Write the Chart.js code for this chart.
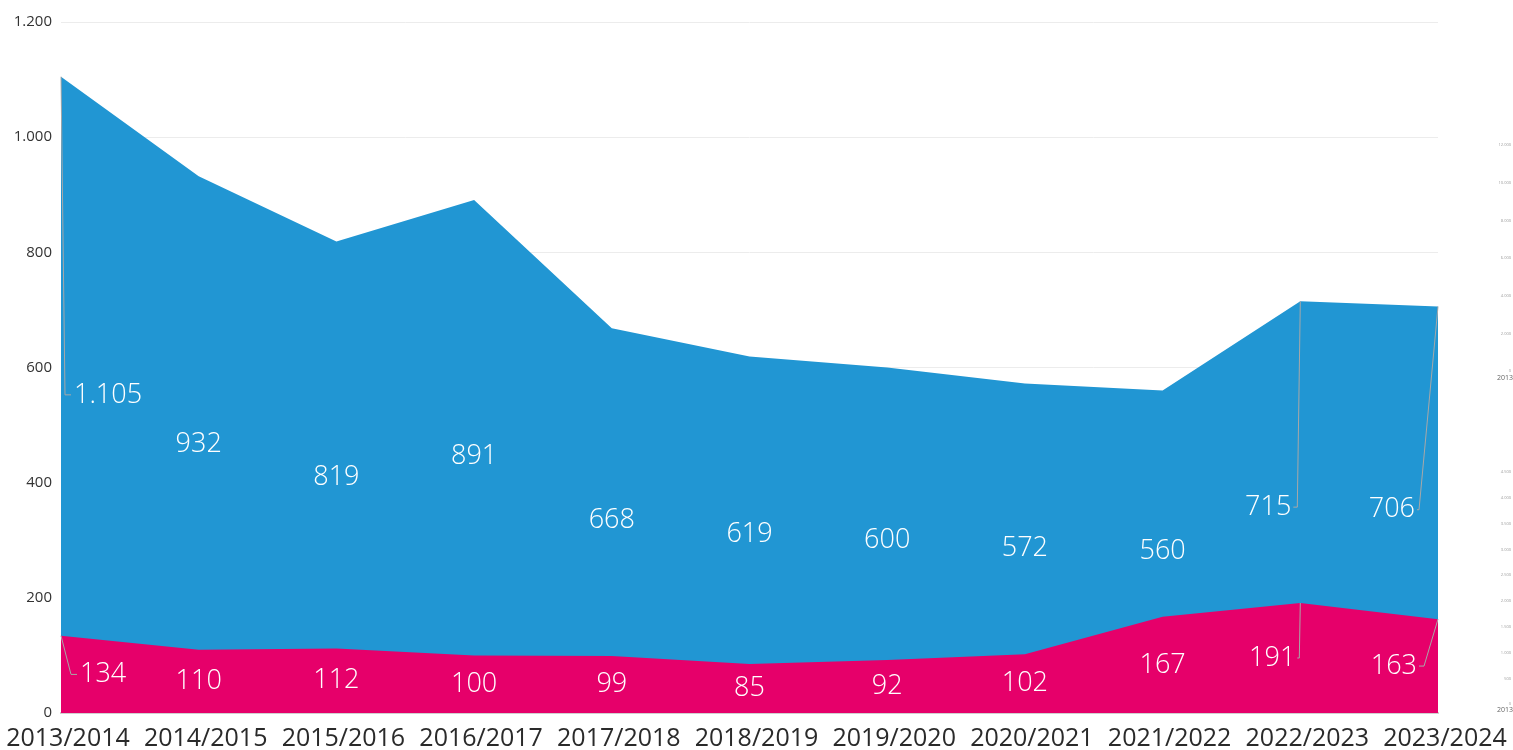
<!DOCTYPE html>
<html>
<head>
<meta charset="utf-8">
<script src="https://cdn.jsdelivr.net/npm/chart.js@4.4.1/dist/chart.umd.min.js"></script>
<style>
  html, body { margin: 0; padding: 0; background: #ffffff; }
  #wrap { position: relative; width: 1513px; height: 750px; }
</style>
</head>
<body>
<div id="wrap"><canvas id="c" width="1513" height="750"></canvas></div>
<script>
const categories = ['2013/2014','2014/2015','2015/2016','2016/2017','2017/2018','2018/2019','2019/2020','2020/2021','2021/2022','2022/2023','2023/2024'];
const totalValues = [1105, 932, 819, 891, 668, 619, 600, 572, 560, 715, 706];
const partValues = [134, 110, 112, 100, 99, 85, 92, 102, 167, 191, 163];
const yTicks = [0, 200, 400, 600, 800, 1000, 1200];
const sideTicksTop = ['12.000','10.000','8.000','6.000','4.000','2.000','0'];
const sideTicksBottom = ['4.500','4.000','3.500','3.000','2.500','2.000','1.500','1.000','500','0'];

const FONT = '"Open Sans", "Liberation Sans", sans-serif';
const BLUE = '#2196d3';
const MAGENTA = '#e6006a';

function fmt(n) {
  const s = String(Math.round(n));
  return s.replace(/\B(?=(\d{3})+(?!\d))/g, '.');
}

const labelPlugin = {
  id: 'valueLabels',
  afterDatasetsDraw(chart) {
    const ctx = chart.ctx;
    const xs = chart.scales.x, ys = chart.scales.y;
    const n = categories.length;
    ctx.save();
    chart.data.datasets.forEach((ds) => {
      ds.data.forEach((v, i) => {
        const px = xs.getPixelForValue(i);
        const pyTop = ys.getPixelForValue(v);
        const pyLab = ys.getPixelForValue(v / 2);
        ctx.font = '300 27px ' + FONT;
        ctx.fillStyle = '#ffffff';
        ctx.textBaseline = 'middle';
        if (i === 0) {
          const isPart = ds.key === 'part';
          const bend = isPart ? 10 : 4;
          const end = isPart ? 16 : 10;
          ctx.strokeStyle = '#a8a8a8';
          ctx.lineWidth = 1;
          ctx.beginPath();
          ctx.moveTo(px, pyTop);
          ctx.lineTo(px + bend, pyLab);
          ctx.lineTo(px + end, pyLab);
          ctx.stroke();
          ctx.textAlign = 'left';
          ctx.fillText(fmt(v), px + end + 3, pyLab);
        } else if (i >= n - 2) {
          const last = i === n - 1;
          const isPart = ds.key === 'part';
          const bend = last ? (isPart ? 14 : 19) : (isPart ? 1 : 3);
          const end = last ? (isPart ? 19 : 21) : (isPart ? 3 : 7);
          ctx.strokeStyle = '#a8a8a8';
          ctx.lineWidth = 1;
          ctx.beginPath();
          ctx.moveTo(px, pyTop);
          ctx.lineTo(px - bend, pyLab);
          ctx.lineTo(px - end, pyLab);
          ctx.stroke();
          ctx.textAlign = 'right';
          ctx.fillText(fmt(v), px - end - 2, pyLab);
        } else {
          ctx.textAlign = 'center';
          ctx.fillText(fmt(v), px, pyLab);
        }
      });
    });
    // faint residual mini-axes on the right edge
    ctx.fillStyle = '#9a9a9a';
    ctx.textAlign = 'right';
    ctx.textBaseline = 'middle';
    ctx.font = '4px ' + FONT;
    sideTicksTop.forEach((t, k) => {
      ctx.fillText(t, 1511, 145 + k * 37.7);
    });
    sideTicksBottom.forEach((t, k) => {
      ctx.fillText(t, 1511, 472 + k * 25.8);
    });
    ctx.fillStyle = '#666';
    ctx.font = '7px ' + FONT;
    ctx.fillText('2013', 1513, 378);
    ctx.fillText('2013', 1513, 710);
    ctx.restore();
  }
};

new Chart(document.getElementById('c'), {
  type: 'line',
  data: {
    labels: categories,
    datasets: [
      {
        key: 'part',
        data: partValues,
        backgroundColor: MAGENTA,
        borderColor: MAGENTA,
        borderWidth: 0,
        pointRadius: 0,
        fill: 'origin',
        tension: 0
      },
      {
        key: 'total',
        data: totalValues,
        backgroundColor: BLUE,
        borderColor: BLUE,
        borderWidth: 0,
        pointRadius: 0,
        fill: 'origin',
        tension: 0
      }
    ]
  },
  options: {
    responsive: false,
    animation: false,
    devicePixelRatio: 1,
    layout: { padding: { top: 22, right: 75, bottom: 0, left: 0 } },
    plugins: {
      legend: { display: false },
      tooltip: { enabled: false }
    },
    scales: {
      x: {
        offset: false,
        grid: { display: false, drawTicks: false },
        border: { display: true, color: '#d0d0d0', width: 2 },
        ticks: {
          color: '#2a2a2a',
          font: { family: FONT, size: 25, weight: '400' },
          padding: 11,
          labelOffset: 7,
          maxRotation: 0,
          autoSkip: false
        },
        afterFit(scale) {
          scale.height = 37;
          scale.paddingLeft = 0;
          scale.paddingRight = 0;
        }
      },
      y: {
        min: 0,
        max: 1200,
        afterBuildTicks(scale) { scale.ticks = yTicks.map(v => ({ value: v })); },
        grid: { color: '#ececec', drawTicks: false, lineWidth: 1 },
        border: { display: false },
        ticks: {
          color: '#333333',
          font: { family: FONT, size: 15, weight: '400' },
          padding: 9,
          callback: (v) => fmt(v)
        },
        afterFit(scale) {
          scale.width = 61;
          scale.paddingTop = 0;
          scale.paddingBottom = 0;
        }
      }
    }
  },
  plugins: [labelPlugin]
});
</script>
</body>
</html>
